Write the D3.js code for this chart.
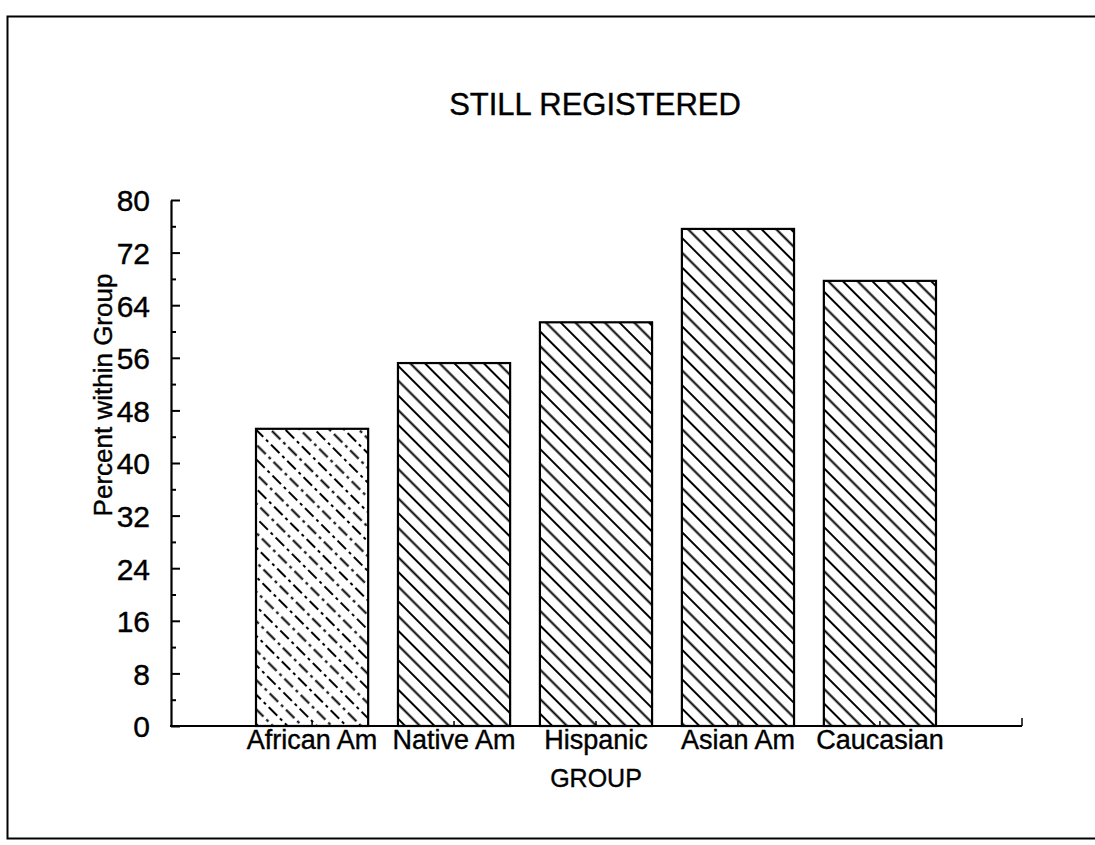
<!DOCTYPE html>
<html>
<head>
<meta charset="utf-8">
<script src="https://cdn.jsdelivr.net/npm/d3@7"></script>
<style>
  body { margin: 0; background: #fff; }
  text { font-family: "Liberation Sans", Arial, sans-serif; fill: #000; stroke: #000; stroke-width: 0.4px; }
</style>
</head>
<body>
<svg width="1095" height="845"></svg>
<script>
// data
var groups = ["African Am", "Native Am", "Hispanic", "Asian Am", "Caucasian"];
var percents = [45.2, 55.2, 61.4, 75.6, 67.7];
var yTicks = [0, 8, 16, 24, 32, 40, 48, 56, 64, 72, 80];
var yMinor = [4, 12, 20, 28, 36, 44, 52, 60, 68, 76];

var svg = d3.select("svg");

// hatch patterns: African Am dashed, the rest solid
var dashes = ["12,4,3,4", null, null, null, null];
var defs = svg.append("defs");
groups.forEach(function(g, i) {
  var p = defs.append("pattern")
      .attr("id", "hatch" + i)
      .attr("patternUnits", "userSpaceOnUse")
      .attr("width", 20.8)
      .attr("height", 46)
      .attr("patternTransform", "rotate(-45)");
  [2, 12.4].forEach(function(lx, k) {
    p.append("line")
        .attr("x1", lx).attr("y1", -23).attr("x2", lx).attr("y2", 69)
        .attr("stroke", "#000")
        .attr("stroke-width", 2)
        .attr("stroke-dasharray", dashes[i])
        .attr("stroke-dashoffset", k * 9);
  });
});

// frame
svg.append("rect")
    .attr("x", 7.5).attr("y", 16.5)
    .attr("width", 1100).attr("height", 822)
    .attr("fill", "none")
    .attr("stroke", "#000")
    .attr("stroke-width", 2);

var x = d3.scaleBand()
    .domain(groups)
    .range([256, 936])
    .paddingInner(0.21)
    .paddingOuter(0);

var y = d3.scaleLinear()
    .domain([0, 80])
    .range([726, 200]);

// bars
svg.append("g")
  .selectAll("rect")
  .data(groups)
  .enter()
  .append("rect")
    .attr("x", function(d) { return x(d); })
    .attr("y", function(_, i) { return y(percents[i]); })
    .attr("width", x.bandwidth())
    .attr("height", function(_, i) { return y(0) - y(percents[i]); })
    .attr("fill", function(_, i) { return "url(#hatch" + i + ")"; })
    .attr("stroke", "#000")
    .attr("stroke-width", 2.2);

// y axis, ticks pointing inward
var yAxis = svg.append("g")
    .attr("transform", "translate(171,0)")
    .call(d3.axisLeft(y).tickValues(yTicks).tickSizeInner(-9).tickSizeOuter(0).tickPadding(21));
yAxis.selectAll("text").style("font-size", "30px").attr("dy", "0.36em");
yAxis.select(".domain").attr("stroke-width", 2.2);
yAxis.selectAll(".tick line").attr("stroke-width", 2);

var yMinorAxis = svg.append("g")
    .attr("transform", "translate(171,0)")
    .call(d3.axisLeft(y).tickValues(yMinor).tickSizeInner(-5).tickSizeOuter(0).tickFormat(""));
yMinorAxis.select(".domain").remove();
yMinorAxis.selectAll(".tick line").attr("stroke-width", 2);

// x axis line
svg.append("line")
    .attr("x1", 170).attr("x2", 1022)
    .attr("y1", y(0)).attr("y2", y(0))
    .attr("stroke", "#000").attr("stroke-width", 2.2);
svg.append("line")
    .attr("x1", 1022).attr("x2", 1022)
    .attr("y1", y(0)).attr("y2", y(0) - 8)
    .attr("stroke", "#000").attr("stroke-width", 1.5);

var xAxis = svg.append("g")
    .attr("transform", "translate(0," + y(0) + ")")
    .call(d3.axisBottom(x).tickSizeInner(-5).tickSizeOuter(0).tickPadding(4));
xAxis.select(".domain").remove();
xAxis.selectAll(".tick line").attr("stroke-width", 1.5);
xAxis.selectAll("text").style("font-size", "27px").attr("dy", "0.71em");

// titles
svg.append("text")
    .attr("x", 595).attr("y", 115)
    .attr("text-anchor", "middle")
    .style("font-size", "31px")
    .text("STILL REGISTERED");

svg.append("text")
    .attr("x", 596).attr("y", 787)
    .attr("text-anchor", "middle")
    .style("font-size", "25px")
    .text("GROUP");

svg.append("text")
    .attr("transform", "translate(112,395) rotate(-90)")
    .attr("text-anchor", "middle")
    .style("font-size", "26px")
    .text("Percent within Group");
</script>
</body>
</html>
